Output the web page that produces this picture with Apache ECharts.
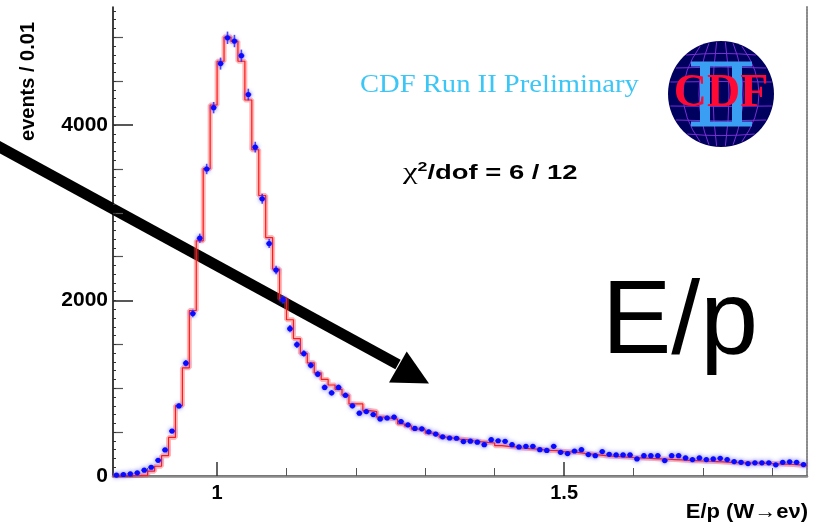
<!DOCTYPE html>
<html>
<head>
<meta charset="utf-8">
<script src="https://cdn.jsdelivr.net/npm/echarts@6/dist/echarts.min.js"></script>
<style>
  html, body { margin: 0; padding: 0; background: #ffffff; }
  #chart { width: 823px; height: 524px; }
</style>
</head>
<body>
<div id="chart"></div>
<script>
// E/p for W -> e nu electrons, 0.01-wide bins from 0.85 to 1.85
const histMin = 0.85;
const histMax = 1.85;
const binWidth = 0.01;

// measured counts per bin (data points)
const dataCounts = [
  10, 17, 25, 36, 66, 100, 179, 297, 512, 799,
  1286, 1852, 2710, 3499, 4198, 4700, 4994, 4957, 4790, 4348,
  3748, 3159, 2649, 2347, 2010, 1679, 1498, 1396, 1262, 1161,
  1010, 948, 1010, 920, 800, 716, 734, 700, 650, 661,
  671, 621, 583, 542, 538, 504, 478, 446, 433, 430,
  392, 397, 385, 357, 414, 402, 395, 357, 331, 338,
  338, 300, 292, 338, 270, 255, 285, 300, 244, 232,
  278, 247, 240, 240, 240, 195, 232, 232, 232, 176,
  232, 232, 206, 187, 206, 187, 195, 202, 187, 164,
  156, 142, 150, 150, 150, 127, 156, 161, 156, 130
];

// simulated template per bin (red histogram)
const templateCounts = [
  2, 3, 5, 7, 10, 55, 111, 232, 440, 802,
  1233, 1886, 2680, 3503, 4228, 4727, 5002, 4953, 4727, 4285,
  3718, 3197, 2717, 2358, 2018, 1781, 1566, 1396, 1290, 1176,
  1101, 1037, 988, 923, 821, 821, 746, 734, 671, 659,
  648, 595, 572, 535, 527, 489, 470, 444, 433, 421,
  414, 402, 391, 383, 376, 346, 338, 331, 319, 312,
  308, 300, 292, 289, 278, 274, 270, 258, 250, 241,
  232, 226, 221, 216, 211, 207, 203, 199, 195, 191,
  187, 183, 179, 175, 171, 168, 164, 160, 156, 152,
  150, 148, 146, 144, 142, 139, 135, 131, 126, 119
];

// axis ticks and labels
const xLabelValues = [1, 1.5];
const xMinorTicks = [0.9, 1.1, 1.2, 1.3, 1.4, 1.6, 1.7, 1.8];
const yLabelValues = [0, 2000, 4000];
const yMidTicks = [500, 1000, 1500, 2500, 3000, 3500, 4500, 5000];
const yMax = 5345;

const binLowEdges = dataCounts.map((_, i) => +(histMin + i * binWidth).toFixed(3));
const binCenters = binLowEdges.map(e => +(e + binWidth / 2).toFixed(4));
const ySmallTicks = [];
for (let v = 100; v < yMax; v += 100) ySmallTicks.push(v);

const pointData = binCenters.map((c, i) => [c, dataCounts[i]]);
const stepData = binLowEdges.map((e, i) => [e, templateCounts[i]]);
stepData.push([histMax, templateCounts[templateCounts.length - 1]]);

const chart = echarts.init(document.getElementById('chart'), null, { renderer: 'canvas' });

const sansFamily = '"Liberation Sans", Arial, sans-serif';
const serifFamily = '"Liberation Serif", "Times New Roman", serif';

// CDF logo: navy globe with grid, blue II and red CDF
const logoCx = 721, logoCy = 94, logoR = 53;
const logoGrid = [];
[-39, -26, -12, 12, 26, 40].forEach(dy => {
  const half = Math.sqrt(logoR * logoR - dy * dy) - 1;
  logoGrid.push({
    type: 'bezierCurve',
    shape: { x1: logoCx - half, y1: logoCy + dy, x2: logoCx + half, y2: logoCy + dy,
             cpx1: logoCx, cpy1: logoCy + dy * 1.08 },
    style: { stroke: '#7b2fd6', lineWidth: 1, fill: null }
  });
});
[-38, -22, -8, 8, 22, 38].forEach(dx => {
  const ex = dx * 0.55;
  const half = Math.sqrt(logoR * logoR - ex * ex) - 1;
  logoGrid.push({
    type: 'bezierCurve',
    shape: { x1: logoCx + ex, y1: logoCy - half, x2: logoCx + ex, y2: logoCy + half,
             cpx1: logoCx + dx * 1.45, cpy1: logoCy },
    style: { stroke: '#7b2fd6', lineWidth: 1, fill: null }
  });
});

const tickLabelStyle = { color: '#000', fontSize: 20, fontWeight: 'bold', fontFamily: sansFamily };

const option = {
  animation: false,
  backgroundColor: '#ffffff',
  grid: { left: 113, right: 16, top: 7, bottom: 48, containLabel: false },
  xAxis: [
    {
      type: 'value', min: histMin, max: histMax, position: 'bottom',
      axisLine: { show: true, lineStyle: { color: '#000', width: 1.5 } },
      axisTick: { show: true, inside: true, length: 14, customValues: xLabelValues,
                  lineStyle: { color: '#333', width: 1.5 } },
      axisLabel: Object.assign({ show: true, customValues: xLabelValues, margin: 7,
                   formatter: v => String(v) }, tickLabelStyle),
      splitLine: { show: false }
    },
    {
      type: 'value', min: histMin, max: histMax, position: 'bottom',
      axisLine: { show: false },
      axisTick: { show: true, inside: true, length: 8, customValues: xMinorTicks,
                  lineStyle: { color: '#555', width: 1 } },
      axisLabel: { show: false },
      splitLine: { show: false }
    },
    {
      type: 'value', min: histMin, max: histMax, position: 'top',
      axisLine: { show: true, lineStyle: { color: '#8a8a8a', width: 2.5 } },
      axisTick: { show: false }, axisLabel: { show: false }, splitLine: { show: false }
    }
  ],
  yAxis: [
    {
      type: 'value', min: 0, max: yMax, position: 'left',
      axisLine: { show: true, lineStyle: { color: '#000', width: 1.5 } },
      axisTick: { show: true, inside: true, length: 20, customValues: yLabelValues,
                  lineStyle: { color: '#222', width: 1.5 } },
      axisLabel: Object.assign({ show: true, customValues: yLabelValues, margin: 5,
                   formatter: v => String(v) }, tickLabelStyle, { fontSize: 21 }),
      splitLine: { show: false }
    },
    {
      type: 'value', min: 0, max: yMax, position: 'left',
      axisLine: { show: false },
      axisTick: { show: true, inside: true, length: 10, customValues: yMidTicks,
                  lineStyle: { color: '#555', width: 1.2 } },
      axisLabel: { show: false }, splitLine: { show: false }
    },
    {
      type: 'value', min: 0, max: yMax, position: 'left',
      axisLine: { show: false },
      axisTick: { show: true, inside: true, length: 3, customValues: ySmallTicks,
                  lineStyle: { color: '#333', width: 1 } },
      axisLabel: { show: false }, splitLine: { show: false }
    },
    {
      type: 'value', min: 0, max: yMax, position: 'right',
      axisLine: { show: true, lineStyle: { color: '#8a8a8a', width: 2, type: [2, 1] } },
      axisTick: { show: false }, axisLabel: { show: false }, splitLine: { show: false }
    }
  ],
  series: [
    {
      name: 'template halo', type: 'line', step: 'end', data: stepData,
      xAxisIndex: 0, yAxisIndex: 0, showSymbol: false, silent: true,
      lineStyle: { color: 'rgba(255,70,70,0.38)', width: 5 }, z: 2
    },
    {
      name: 'template', type: 'line', step: 'end', data: stepData,
      xAxisIndex: 0, yAxisIndex: 0, showSymbol: false,
      lineStyle: { color: '#ff1a1a', width: 1.2 }, z: 3
    },
    {
      name: 'data', type: 'custom', data: pointData, xAxisIndex: 0, yAxisIndex: 0, z: 4,
      renderItem: function (params, api) {
        const x = api.value(0), y = api.value(1);
        const err = Math.sqrt(y);
        const c = api.coord([x, y]);
        const top = api.coord([x, y + err]);
        const bot = api.coord([x, y - err]);
        return {
          type: 'group',
          children: [
            { type: 'line', shape: { x1: c[0], y1: top[1], x2: c[0], y2: bot[1] },
              style: { stroke: 'rgba(40,40,255,0.85)', lineWidth: 1.6 } },
            { type: 'line', shape: { x1: c[0] - 3, y1: c[1], x2: c[0] + 3, y2: c[1] },
              style: { stroke: 'rgba(40,40,255,0.85)', lineWidth: 1.6 } },
            { type: 'circle', shape: { cx: c[0], cy: c[1], r: 2.6 },
              style: { fill: '#0a0aff', shadowBlur: 4, shadowColor: 'rgba(70,70,255,0.9)' } }
          ]
        };
      }
    }
  ],
  graphic: [
    // axis titles
    { type: 'text', x: 28, y: 22, rotation: Math.PI / 2,
      style: { text: 'events / 0.01', font: 'bold 20px ' + sansFamily, fill: '#000', align: 'right', verticalAlign: 'middle' } },
    { type: 'text', x: 808, y: 512, scaleX: 1.1,
      style: { text: 'E/p (W\u2192e\u03bd)', font: 'bold 20px ' + sansFamily,
               fill: '#000', align: 'right', verticalAlign: 'middle' } },
    // annotations
    { type: 'text', x: 360, y: 85, scaleX: 1.1,
      style: { text: 'CDF Run II Preliminary', font: '26px ' + serifFamily,
               fill: '#3cc6f6', align: 'left', verticalAlign: 'middle' } },
    { type: 'text', x: 403, y: 173, scaleX: 1.37,
      style: {
        text: '{chi|\u03c7}{sup|2}{b|/dof = 6 / 12}',
        align: 'left', verticalAlign: 'middle',
        rich: {
          chi: { font: '24px ' + serifFamily, fill: '#000' },
          sup: { font: 'bold 13px ' + sansFamily, fill: '#000', verticalAlign: 'top', padding: [0, 0, 10, 0] },
          b: { font: 'bold 20px ' + sansFamily, fill: '#000' }
        }
      } },
    { type: 'text', x: 602, y: 324,
      style: { text: 'E/p', font: '104px ' + sansFamily, fill: '#000',
               align: 'left', verticalAlign: 'middle' } },
    // arrow
    { type: 'polyline', shape: { points: [[-6, 144], [398, 364.5]] },
      style: { stroke: '#000', lineWidth: 11, fill: null } },
    { type: 'polygon', shape: { points: [[406.7, 351.5], [389, 382.5], [429, 383.5]] },
      style: { fill: '#000' } },
    // logo
    { type: 'group', children: [
      { type: 'circle', shape: { cx: logoCx, cy: logoCy, r: logoR }, style: { fill: '#00005e' } }
    ].concat(logoGrid).concat([
      { type: 'rect', shape: { x: 691, y: 61.5, width: 61, height: 5 }, style: { fill: '#3a9ff2' } },
      { type: 'rect', shape: { x: 691, y: 121.5, width: 61, height: 5 }, style: { fill: '#3a9ff2' } },
      { type: 'rect', shape: { x: 700, y: 64, width: 10, height: 60 }, style: { fill: '#3a9ff2' } },
      { type: 'rect', shape: { x: 732, y: 64, width: 10, height: 60 }, style: { fill: '#3a9ff2' } },
      { type: 'text', x: 721, y: 94,
        style: { text: 'CDF', font: 'bold 46px ' + serifFamily,
                 fill: '#ff0a35', align: 'center', verticalAlign: 'middle' } }
    ]) }
  ]
};

chart.setOption(option);
</script>
</body>
</html>
